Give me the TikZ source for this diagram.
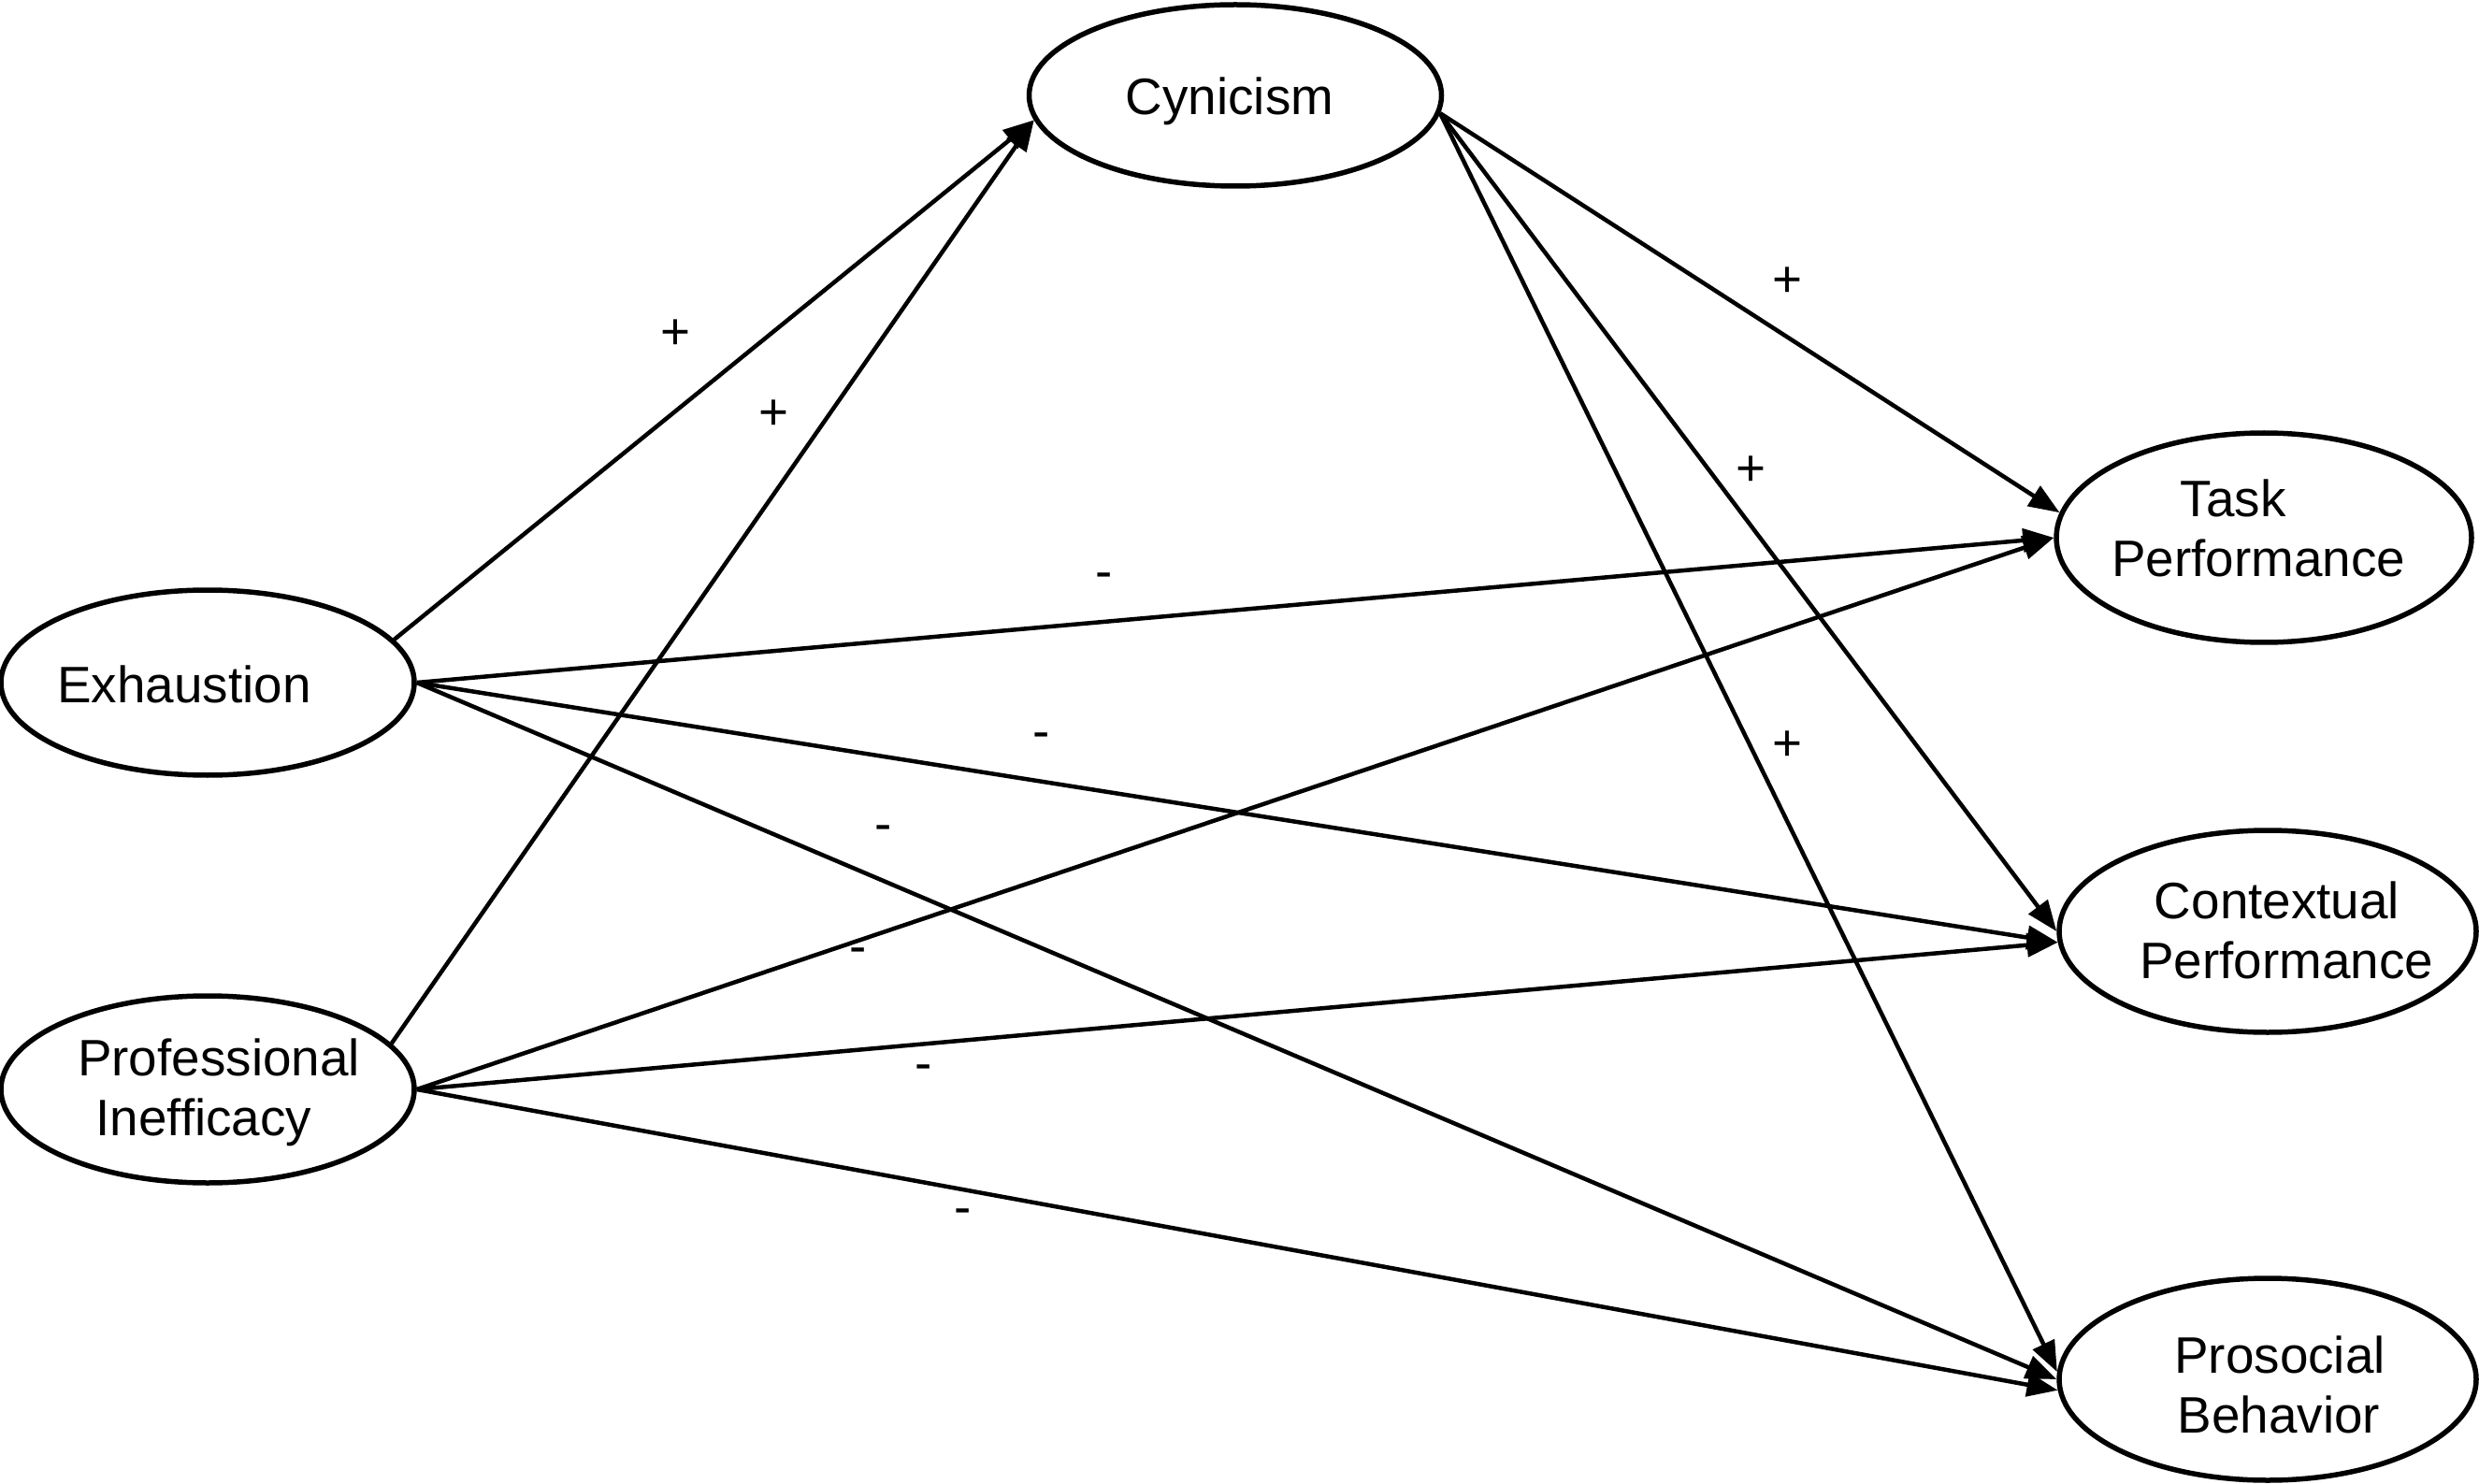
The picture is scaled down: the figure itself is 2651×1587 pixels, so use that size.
\documentclass[tikz,border=0pt]{standalone}
\usepackage{fontspec}
\setmainfont{Liberation Sans}
\usetikzlibrary{arrows.meta,shapes.geometric}
\begin{document}
\begin{tikzpicture}[x=0.1mm,y=-0.1mm,
  latent/.style={draw, ellipse, line width=0.55mm, inner sep=0pt},
  lbl/.style={font=\fontsize{15.6}{18.2}\selectfont, align=center, inner sep=0pt},
  sign/.style={font=\fontsize{15.6}{18.2}\selectfont, inner sep=0pt},
  link/.style={line width=0.45mm, -{Triangle[length=3.3mm,width=2.5mm]}}
]
\useasboundingbox (0,0) rectangle (2651,1587);

% latent variables
\node[latent, minimum width=44.1mm, minimum height=19.4mm] (cyn)  at (1321,102)  {};
\node[latent, minimum width=44.2mm, minimum height=19.8mm] (exh)  at (222,730)   {};
\node[latent, minimum width=44.2mm, minimum height=20mm]   (pi)   at (222,1165)  {};
\node[latent, minimum width=44.4mm, minimum height=22.4mm] (task) at (2421,575)  {};
\node[latent, minimum width=44.6mm, minimum height=21.6mm] (ctx)  at (2425,996)  {};
\node[latent, minimum width=44.6mm, minimum height=21.6mm] (pro)  at (2425,1475) {};

% texts
\node[lbl] (cynT)  at (1321,108)  {Cynicism\hspace*{1.2mm}};
\node[lbl] (exhT)  at (222,732)   {Exhaustion\hspace*{5mm}};
\node[lbl] (piT)   at (222,1168)  {\hspace*{2.4mm}Professional\\Inefficacy\hspace*{0.8mm}};
\node[lbl] (taskT) at (2421,565)  {Task\hspace*{6.6mm}\\Performance\hspace*{1.2mm}};
\node[lbl] (ctxT)  at (2425,995)  {\hspace*{2mm}Contextual\\\hspace*{4mm}Performance};
\node[lbl] (proT)  at (2425,1481) {\hspace*{2.6mm}Prosocial\\\hspace*{2.4mm}Behavior};

% paths
\draw[link] (exh.13)   -- (cyn.187);
\draw[link] (pi.14)    -- (cyn.187);
\draw[link] (exh.east) -- (task.west);
\draw[link] (exh.east) -- (ctx.183);
\draw[link] (exh.east) -- (pro.west);
\draw[link] (pi.east)  -- (task.west);
\draw[link] (pi.east)  -- (ctx.183);
\draw[link] (pi.east)  -- (pro.183);
\draw[link] (cyn.-5)   -- (task.173);
\draw[link] (cyn.-5)   -- (ctx.west);
\draw[link] (cyn.-5)   -- (pro.178);

% signs
\node[sign] (s1)  at (722,358)   {+};
\node[sign] (s2)  at (827,444)   {+};
\node[sign] (s3)  at (1181,621)  {-};
\node[sign] (s4)  at (1114,792)  {-};
\node[sign] (s5)  at (945,891)   {-};
\node[sign] (s6)  at (918,1022)  {-};
\node[sign] (s7)  at (988,1147)  {-};
\node[sign] (s8)  at (1030,1301) {-};
\node[sign] (s9)  at (1911,302)  {+};
\node[sign] (s10) at (1872,504)  {+};
\node[sign] (s11) at (1911,798)  {+};
\end{tikzpicture}
\end{document}
